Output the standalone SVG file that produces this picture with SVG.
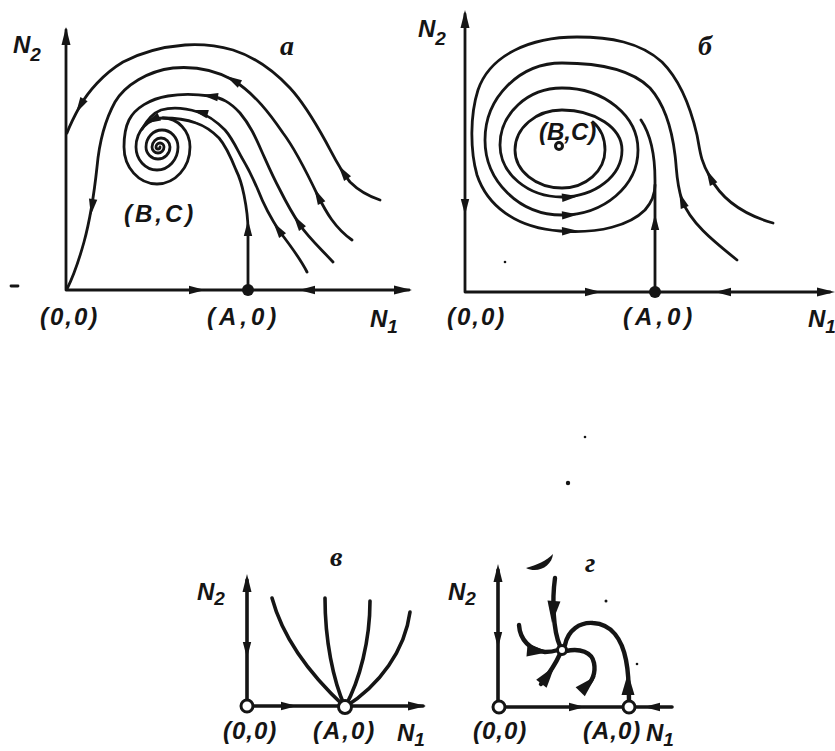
<svg xmlns="http://www.w3.org/2000/svg" width="835" height="751" viewBox="0 0 835 751">
<style>
.ln{fill:none;stroke:#151515;stroke-width:2.8;stroke-linecap:round;stroke-linejoin:round}
.th{fill:none;stroke:#151515;stroke-width:3.6;stroke-linecap:round;stroke-linejoin:round}
.tk{fill:none;stroke:#151515;stroke-width:4.4;stroke-linecap:round;stroke-linejoin:round}
.ar{fill:#151515}
.pt{fill:#fff;stroke:#151515;stroke-width:3}
.dot{fill:#151515}
.lb{font-family:"Liberation Sans",Arial,sans-serif;font-weight:bold;font-style:italic;font-size:24px;fill:#151515}
.pl{font-family:"Liberation Serif","Times New Roman",serif;font-weight:bold;font-style:italic;font-size:28px;fill:#151515}
</style>
<defs>
<path id="ah" d="M8,0 L-8,-4.2 L-8,4.2 Z"/>
<path id="tip" d="M0,0 L-18,-4.5 L-18,4.5 Z"/>
<path id="wd" d="M11,0 L-11,-6.5 L-11,6.5 Z"/>
</defs>

<!-- Panel а -->
<g id="panel-a">
  <g id="a-axes">
    <path class="ln" d="M66,290 V30 M66,290 H409"/>
    <use href="#tip" class="ar" transform="translate(66,27) rotate(-90)"/>
    <use href="#tip" class="ar" transform="translate(412,290)"/>
  </g>
  <g id="a-trajectories">
    <path class="ln" d="M380,200 C368,196 357,189 350,182 C340,170 333,155 326,142 C315,122 303,102 290,88 C275,72 258,58 233,50 C215,45 200,44 185,45 C160,47 140,53 123,62 C103,74 88,92 80,106 C75,115 70,125 67,133"/>
    <path class="ln" d="M352,240 C335,228 326,212 318,196 C308,175 296,150 283,133 C270,114 255,94 233,80 C215,70 195,66 173,68 C148,71 125,85 115,102 C104,122 99,145 97,167 C94,195 90,220 84,242 C79,260 74,275 67,289"/>
    <path class="ln" d="M333,262 C320,248 308,237 300,225 C290,210 285,200 280,190 C272,175 267,163 262,152 C255,136 250,125 240,113 C230,102 222,98 210,96 C195,94 180,94 168,96 C150,99 135,108 129,120 C125,128 124,137 124,147 A33,37 0 0 0 190,147 A27,29 0 0 0 136,147 A21,23 0 0 0 178,147 A16,17 0 0 0 146,147 A12,12 0 0 0 170,147 A9,9 0 0 0 152,147 A6,6 0 0 0 164,147 A4,4 0 0 0 156,147 A2,2 0 0 0 160,147"/>
    <path class="ln" d="M307,272 C300,258 290,245 280,232 C268,214 263,203 258,190 C252,176 248,168 242,158 C236,147 232,138 225,130 C216,121 208,115 198,112 C185,108 172,107 161,110 C153,113 147,120 142,129"/>
    <path class="ln" d="M248,290 V230 C248,215 246,205 244,195 C242,185 240,178 236,170 C230,155 226,146 219,138 C212,131 205,126 196,123 C185,119 175,118 163,118"/>
  </g>
  <g id="a-arrows">
    <use href="#ah" class="ar" transform="translate(197,290)"/>
    <use href="#ah" class="ar" transform="translate(307,290) rotate(180)"/>
    <use href="#ah" class="ar" transform="translate(248,228) rotate(-90)"/>
    <use href="#ah" class="ar" transform="translate(80,106) rotate(120)"/>
    <use href="#ah" class="ar" transform="translate(343,172) rotate(-125)"/>
    <use href="#ah" class="ar" transform="translate(233,80) rotate(-150)"/>
    <use href="#ah" class="ar" transform="translate(92,207) rotate(98)"/>
    <use href="#ah" class="ar" transform="translate(318,196) rotate(-117)"/>
    <use href="#ah" class="ar" transform="translate(210,96) rotate(-172)"/>
    <use href="#ah" class="ar" transform="translate(298,222) rotate(-124)"/>
    <use href="#ah" class="ar" transform="translate(200,112) rotate(-165)"/>
    <use href="#ah" class="ar" transform="translate(278,229) rotate(-125)"/>
    <use href="#ah" class="ar" transform="translate(152,120) rotate(155)"/>
  </g>
  <g id="a-points">
    <circle class="dot" cx="248" cy="290" r="6"/>
  </g>
  <g id="a-labels">
    <text class="lb" x="13" y="53" font-size="22">N<tspan dy="8" font-size="19">2</tspan></text>
    <text class="pl" x="280" y="55" font-size="31">а</text>
    <text class="lb" x="124" y="222" letter-spacing="3">(B,C)</text>
    <text class="lb" x="40" y="325" letter-spacing="2">(0,0)</text>
    <text class="lb" x="207" y="325" letter-spacing="4">(A,0)</text>
    <text class="lb" x="370" y="327" font-size="22">N<tspan dy="6" font-size="19">1</tspan></text>
  </g>
  <path class="ln" d="M11,286 H18" stroke-width="2"/>
</g>

<!-- Panel б -->
<g id="panel-b">
  <g id="b-axes">
    <path class="ln" d="M465,292 V14 M465,292 H830"/>
    <use href="#tip" class="ar" transform="translate(465,10) rotate(-90)"/>
    <use href="#tip" class="ar" transform="translate(835,292)"/>
  </g>
  <g id="b-trajectories">
    <path class="ln" d="M773,223 C745,215 722,200 710,177 C700,160 700,150 697,135 C690,105 680,80 662,62 C640,42 610,37 577,37 C530,37 490,55 478,90 C470,115 470,150 477,175 C487,205 515,228 560,231 C600,234 630,225 645,210 C652,202 655,195 655,185"/>
    <path class="ln" d="M737,260 C712,240 690,222 682,200 C676,182 677,170 675,155 C672,130 665,105 650,88 C632,70 600,63 562,63 C519.5,63 485,97.5 485,140 C485,181.4 519.5,215 562,215 C604,215 638,185.9 638,150 C638,115.8 604,88 562,88 C527.8,88 500,113.5 500,145 C500,173.7 527.8,197 562,197 C595.1,197 622,175.9 622,150 C622,127.9 595.1,110 562,110 C536.1,110 515,127.9 515,150 C515,171 536.1,188 562,188 C585.7,188 605,171 605,150 C605,138 600,128 593,122"/>
    <path class="ln" d="M655,292 V180 C655,155 651,135 641,120"/>
  </g>
  <g id="b-arrows">
    <use href="#ah" class="ar" transform="translate(593,292)"/>
    <use href="#ah" class="ar" transform="translate(723,292) rotate(180)"/>
    <use href="#ah" class="ar" transform="translate(465,207) rotate(90)"/>
    <use href="#ah" class="ar" transform="translate(655,222) rotate(-90)"/>
    <use href="#ah" class="ar" transform="translate(710,177) rotate(-117)"/>
    <use href="#ah" class="ar" transform="translate(682,200) rotate(-110)"/>
    <use href="#ah" class="ar" transform="translate(570,231) rotate(-2)"/>
    <use href="#ah" class="ar" transform="translate(570,215) rotate(-3)"/>
    <use href="#ah" class="ar" transform="translate(570,197) rotate(-5)"/>
  </g>
  <g id="b-points">
    <circle class="dot" cx="655" cy="292" r="6"/>
    <circle class="pt" cx="559" cy="146" r="3.5" stroke-width="2"/>
    <circle class="dot" cx="505" cy="262" r="1.3"/>
  </g>
  <g id="b-labels">
    <text class="lb" x="418" y="37" font-size="22">N<tspan dy="8" font-size="19">2</tspan></text>
    <text class="pl" x="698" y="55">б</text>
    <text class="lb" x="539" y="140" font-size="22">(B,C)</text>
    <text class="lb" x="447" y="325" letter-spacing="2">(0,0)</text>
    <text class="lb" x="623" y="325" letter-spacing="4">(A,0)</text>
    <text class="lb" x="808" y="327" font-size="22">N<tspan dy="6" font-size="19">1</tspan></text>
  </g>
</g>

<!-- Panel в -->
<g id="panel-c">
  <g id="c-axes">
    <path class="th" d="M247,706 V580 M247,706 H423"/>
    <use href="#tip" class="ar" transform="translate(247,574) rotate(-90)"/>
    <use href="#tip" class="ar" transform="translate(426,706)"/>
  </g>
  <g id="c-trajectories">
    <path class="th" d="M272,598 C282,635 305,670 345,707"/>
    <path class="th" d="M325,598 C325,640 333,680 345,707"/>
    <path class="th" d="M370,601 C370,640 360,680 345,707"/>
    <path class="th" d="M410,612 C405,650 380,685 345,707"/>
  </g>
  <g id="c-arrows">
    <use href="#ah" class="ar" transform="translate(247,650) rotate(90)"/>
    <use href="#ah" class="ar" transform="translate(289,706)"/>
  </g>
  <g id="c-points">
    <circle class="pt" cx="247" cy="706" r="6"/>
    <circle class="pt" cx="345" cy="707" r="6.5"/>
  </g>
  <g id="c-labels">
    <text class="pl" x="330" y="566" font-size="24">в</text>
    <text class="lb" x="197" y="600" font-size="21">N<tspan dy="5" font-size="19">2</tspan></text>
    <text class="lb" x="223" y="739" letter-spacing="1">(0,0)</text>
    <text class="lb" x="313" y="739" letter-spacing="2">(A,0)</text>
    <text class="lb" x="397" y="741" font-size="22">N<tspan dy="5" font-size="19">1</tspan></text>
  </g>
</g>

<!-- Panel г -->
<g id="panel-d">
  <g id="d-axes">
    <path class="th" d="M498,706 V570 M498,707 H672"/>
    <use href="#tip" class="ar" transform="translate(498,564) rotate(-90)"/>
  </g>
  <g id="d-trajectories">
    <path class="tk" d="M555,578 C552,600 553,630 560,646"/>
    <path class="tk" d="M519,625 C520,640 530,650 545,652 C550,652 555,651 558,650"/>
    <path class="tk" d="M560,654 C555,665 548,675 541,684"/>
    <path class="tk" d="M566,651 C580,648 592,652 594,663 C596,673 592,682 584,689"/>
    <path class="tk" d="M565,645 C568,630 580,622 593,623 C612,624 622,640 626,660 C629,675 629,690 629,701"/>
  </g>
  <g id="d-arrows">
    <use href="#ah" class="ar" transform="translate(498,640) rotate(90)"/>
    <use href="#ah" class="ar" transform="translate(577,707)"/>
    <use href="#ah" class="ar" transform="translate(652,707) rotate(180)"/>
    <use href="#wd" class="ar" transform="translate(553,612) rotate(95)"/>
    <use href="#wd" class="ar" transform="translate(538,651) rotate(5)"/>
    <use href="#wd" class="ar" transform="translate(548,675) rotate(-53)"/>
    <use href="#wd" class="ar" transform="translate(588,684) rotate(-45)"/>
    <use href="#wd" class="ar" transform="translate(628,684) rotate(-90)"/>
  </g>
  <g id="d-points">
    <circle class="pt" cx="499" cy="707" r="6"/>
    <circle class="pt" cx="629" cy="707" r="6"/>
    <circle class="pt" cx="562" cy="650" r="4.5" stroke-width="2.5"/>
    <path class="ar" d="M526,568 C538,574 552,566 553,554 C546,561 537,565 526,568 Z"/>
    <circle class="dot" cx="606" cy="601" r="1.5"/>
    <circle class="dot" cx="637" cy="664" r="1.3"/>
  </g>
  <g id="d-labels">
    <text class="pl" x="585" y="572" font-size="24">г</text>
    <text class="lb" x="448" y="600" font-size="21">N<tspan dy="5" font-size="19">2</tspan></text>
    <text class="lb" x="473" y="739" letter-spacing="1">(0,0)</text>
    <text class="lb" x="583" y="739" letter-spacing="1">(A,0)</text>
    <text class="lb" x="646" y="741" font-size="22">N<tspan dy="5" font-size="19">1</tspan></text>
  </g>
</g>

<g id="specks">
  <circle class="dot" cx="585" cy="437" r="1.3"/>
  <circle class="dot" cx="568" cy="483" r="2.2"/>
</g>
</svg>
